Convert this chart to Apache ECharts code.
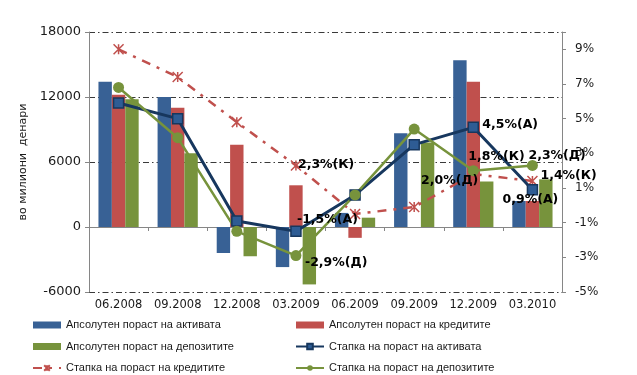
<!DOCTYPE html>
<html>
<head>
<meta charset="utf-8">
<script src="https://cdn.jsdelivr.net/npm/echarts@6/dist/echarts.min.js"></script>
<style>
  html, body { margin: 0; padding: 0; background: #fff; }
  #chart { width: 637px; height: 375px; }
</style>
</head>
<body>
<div id="chart"></div>
<script>
// Quarter-end periods
const categories = ['06.2008', '09.2008', '12.2008', '03.2009', '06.2009', '09.2009', '12.2009', '03.2010'];

// Absolute growth, millions of denars (left axis)
const assetGrowth   = [13400, 12000, -2400, -3700, 1300, 8650, 15400, 2400];
const creditGrowth  = [12200, 11000, 7600, 3850, -1000, 0, 13400, 2400];
const depositGrowth = [11800, 6800, -2700, -5300, 860, 7800, 4200, 4400];

// Growth rates, % (right axis)
const assetRate   = [5.9, 5.0, -0.9, -1.5, 0.6, 3.5, 4.5, 0.9];
const creditRate  = [9.0, 7.4, 4.8, 2.3, -0.5, -0.1, 1.8, 1.4];
const depositRate = [6.8, 3.9, -1.5, -2.9, 0.6, 4.4, 2.0, 2.3];

// Points that carry a value label
const labelledPoints = [3, 6, 7];

const names = {
  assetBar: 'Апсолутен пораст на активата',
  creditBar: 'Апсолутен пораст на кредитите',
  depositBar: 'Апсолутен пораст на депозитите',
  assetLine: 'Стапка на пораст на активата',
  creditLine: 'Стапка на пораст на кредитите',
  depositLine: 'Стапка на пораст на депозитите'
};

const FONT = 'DejaVu Sans';
const LEGEND_FONT = 'Liberation Sans';
const COLORS = {
  blue: '#386195', red: '#C0504D', green: '#77933C',
  navy: '#17375E', axis: '#868686', grid: '#3a3a3a', text: '#1a1a1a'
};

// Label placement per point, relative to the marker centre
const labelLayout = {
  asset:   { 3: { align: 'left', offset: [1, -12] }, 6: { align: 'left', offset: [9, -3] }, 7: { align: 'center', offset: [-2, 10] } },
  credit:  { 3: { align: 'left', offset: [2, -1] }, 6: { align: 'left', offset: [-5, -17] }, 7: { align: 'left', offset: [8, -5] } },
  deposit: { 3: { align: 'left', offset: [9, 7] }, 6: { align: 'right', offset: [5, 10] }, 7: { align: 'left', offset: [-4, -10] } }
};

function fmtRate(v, tag) {
  return v.toFixed(1).replace('.', ',') + '%(' + tag + ')';
}

function rateData(values, tag, layoutKey) {
  return values.map((v, i) => {
    if (labelledPoints.indexOf(i) === -1) return v;
    const lay = labelLayout[layoutKey][i];
    return {
      value: v,
      label: {
        show: true,
        position: 'inside',
        align: lay.align,
        verticalAlign: 'middle',
        offset: lay.offset,
        formatter: () => fmtRate(v, tag),
        fontFamily: FONT,
        fontWeight: 'bold',
        fontSize: 12.5,
        color: '#000'
      }
    };
  });
}

const gridLineDash = [6, 3, 1.5, 3];

const legendCommon = {
  orient: 'vertical', top: 319.5, padding: 0,
  itemWidth: 28, itemHeight: 7, itemGap: 10.5,
  textStyle: { fontFamily: LEGEND_FONT, fontSize: 11, color: COLORS.text }
};

const option = {
  animation: false,
  backgroundColor: '#fff',
  grid: { left: 89, right: 75, top: 32, bottom: 83, containLabel: false },
  legend: [
    Object.assign({}, legendCommon, {
      left: 32,
      data: [
        { name: names.assetBar, icon: 'rect' },
        { name: names.depositBar, icon: 'rect' },
        names.creditLine
      ]
    }),
    Object.assign({}, legendCommon, {
      left: 295,
      data: [
        { name: names.creditBar, icon: 'rect' },
        names.assetLine,
        names.depositLine
      ]
    })
  ],
  xAxis: {
    type: 'category',
    data: categories,
    boundaryGap: true,
    axisLine: { onZero: true, onZeroAxisIndex: 0, lineStyle: { color: COLORS.axis, width: 1 } },
    axisTick: { show: true, length: 4, lineStyle: { color: COLORS.axis } },
    axisLabel: { interval: 0, fontFamily: FONT, fontSize: 11.5, color: COLORS.text, margin: 7 }
  },
  yAxis: [
    {
      type: 'value',
      min: -6000, max: 18000, interval: 6000,
      name: 'во милиони  денари',
      nameLocation: 'middle',
      nameGap: 47,
      nameTextStyle: { fontFamily: FONT, fontSize: 11, color: COLORS.text },
      axisLine: { show: true, lineStyle: { color: COLORS.axis } },
      axisTick: { show: true, length: 4, lineStyle: { color: COLORS.axis } },
      axisLabel: { fontFamily: FONT, fontSize: 13, color: COLORS.text, margin: 8, formatter: v => String(v) },
      splitLine: { show: true, lineStyle: { color: COLORS.grid, width: 1, type: gridLineDash } }
    },
    {
      // percentage scale for the growth-rate lines
      type: 'value',
      position: 'right',
      min: -5, max: 10, interval: 1,
      axisLine: { show: true, lineStyle: { color: COLORS.axis } },
      axisTick: { show: false },
      axisLabel: {
        fontFamily: FONT, fontSize: 12, color: COLORS.text, margin: 13,
        formatter: v => (v < 10 && Math.abs(v % 2) === 1) ? v + '%' : ''
      },
      splitLine: { show: false }
    },
    {
      // tick marks every 2 percentage points, counted from the bottom of the scale
      type: 'value',
      position: 'right',
      min: 0, max: 15, interval: 2,
      axisLine: { show: false },
      axisTick: { show: true, inside: false, length: 4, lineStyle: { color: COLORS.axis } },
      axisLabel: { show: false },
      splitLine: { show: false }
    }
  ],
  series: [
    {
      name: names.assetBar, type: 'bar', yAxisIndex: 0,
      data: assetGrowth, barGap: '0%', barCategoryGap: '32%',
      itemStyle: { color: COLORS.blue }
    },
    {
      name: names.creditBar, type: 'bar', yAxisIndex: 0,
      data: creditGrowth, barGap: '0%', barCategoryGap: '32%',
      itemStyle: { color: COLORS.red }
    },
    {
      name: names.depositBar, type: 'bar', yAxisIndex: 0,
      data: depositGrowth, barGap: '0%', barCategoryGap: '32%',
      itemStyle: { color: COLORS.green }
    },
    {
      name: names.creditLine, type: 'line', yAxisIndex: 1,
      data: rateData(creditRate, 'К', 'credit'),
      symbol: 'path://M0,0L10,10M10,0L0,10M5,0L5,10',
      symbolSize: 10,
      lineStyle: { color: COLORS.red, width: 2.5, type: [9, 7, 3, 7] },
      itemStyle: { color: 'rgba(0,0,0,0)', borderColor: COLORS.red, borderWidth: 1.5 }
    },
    {
      name: names.assetLine, type: 'line', yAxisIndex: 1,
      data: rateData(assetRate, 'А', 'asset'),
      symbol: 'rect', symbolSize: 10,
      lineStyle: { color: COLORS.navy, width: 3 },
      itemStyle: { color: '#2E5C94', borderColor: COLORS.navy, borderWidth: 1.5 }
    },
    {
      name: names.depositLine, type: 'line', yAxisIndex: 1,
      data: rateData(depositRate, 'Д', 'deposit'),
      symbol: 'circle', symbolSize: 11,
      lineStyle: { color: COLORS.green, width: 2.5 },
      itemStyle: { color: COLORS.green, borderColor: COLORS.green, borderWidth: 0 }
    }
  ]
};

const chart = echarts.init(document.getElementById('chart'), null, { renderer: 'canvas' });
chart.setOption(option);
</script>
</body>
</html>
